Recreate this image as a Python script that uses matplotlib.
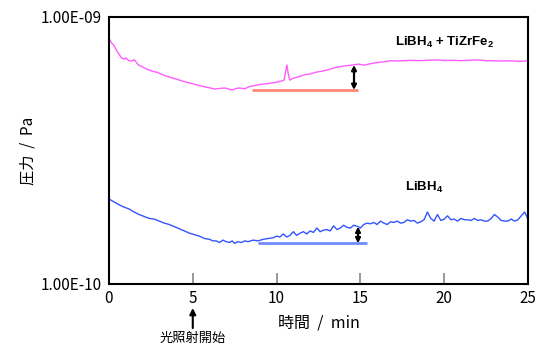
import matplotlib
matplotlib.use("Agg")
import matplotlib.pyplot as plt
import numpy as np

plt.rcParams['font.family'] = ['Noto Sans CJK JP', 'DejaVu Sans']
plt.rcParams['mathtext.fontset'] = 'custom'
plt.rcParams['mathtext.rm'] = 'Liberation Sans:bold'
plt.rcParams['mathtext.default'] = 'rm'

# 圧力データ (単位: 1e-10 Pa)
pink_t = [0, 0.15, 0.3, 0.45, 0.6, 0.75, 0.9, 1.0, 1.1, 1.2, 1.35, 1.5, 1.6, 1.75, 2.0, 2.3,
          2.6, 2.9, 3.2, 3.5, 3.8, 4.1, 4.4, 4.7, 5.0, 5.3, 5.7, 6.0, 6.3, 6.6, 6.9, 7.1,
          7.35, 7.6, 7.8, 8.1, 8.3, 8.5, 8.8, 9.1, 9.4, 9.7, 10.0, 10.3, 10.45, 10.55, 10.62,
          10.7, 10.8, 10.9, 11.1, 11.4, 11.7, 12.0, 12.4, 12.8, 13.1, 13.4, 13.7, 14.0, 14.3,
          14.6, 14.9, 15.2, 15.5, 15.8, 16.1, 16.5, 16.8, 17.2, 17.6, 18.0, 18.5, 19.0, 19.5,
          20.0, 20.5, 21.0, 21.5, 22.0, 22.5, 23.0, 23.5, 24.0, 24.5, 25.0]
pink_p = [8.32, 8.00, 7.82, 7.50, 7.25, 7.02, 6.95, 7.03, 6.93, 6.86, 6.84, 6.92, 6.80, 6.62, 6.50, 6.36,
          6.26, 6.20, 6.08, 5.98, 5.91, 5.83, 5.75, 5.68, 5.62, 5.55, 5.48, 5.43, 5.37, 5.40, 5.42, 5.38,
          5.33, 5.40, 5.42, 5.38, 5.46, 5.51, 5.55, 5.60, 5.62, 5.66, 5.70, 5.76, 5.80, 6.30, 6.61,
          6.10, 5.80, 5.86, 5.92, 6.00, 6.08, 6.12, 6.22, 6.28, 6.35, 6.44, 6.50, 6.55, 6.58,
          6.62, 6.66, 6.60, 6.66, 6.72, 6.76, 6.80, 6.86, 6.84, 6.86, 6.88, 6.86, 6.88, 6.90,
          6.87, 6.88, 6.86, 6.88, 6.90, 6.86, 6.85, 6.84, 6.85, 6.82, 6.85]

blue_t = [0, 0.3, 0.6, 0.9, 1.2, 1.5, 1.8, 2.1, 2.4, 2.7, 3.0, 3.3, 3.6, 3.9, 4.2, 4.5, 4.8, 5.1,
          5.4, 5.7, 6.0, 6.2, 6.4, 6.6, 6.8, 7.0, 7.2, 7.35, 7.5, 7.7, 7.9, 8.1, 8.3, 8.6, 8.9,
          9.2, 9.5, 9.8, 10.0, 10.2, 10.4, 10.6, 10.8, 11.0, 11.2, 11.4, 11.6, 11.8, 12.0, 12.2,
          12.4, 12.6, 12.8, 13.0, 13.2, 13.4, 13.6, 13.8, 14.0, 14.2, 14.4, 14.6, 14.86, 15.0,
          15.2, 15.4, 15.6, 15.8, 16.0, 16.2, 16.4, 16.6, 16.8, 17.0, 17.2, 17.4, 17.6, 17.8,
          18.0, 18.2, 18.4, 18.6, 18.8, 19.0, 19.2, 19.4, 19.6, 19.8, 20.0, 20.2, 20.4, 20.6,
          20.8, 21.0, 21.2, 21.4, 21.6, 21.8, 22.0, 22.2, 22.4, 22.6, 22.8, 23.0, 23.2, 23.4,
          23.6, 23.8, 24.0, 24.2, 24.4, 24.6, 24.8, 25.0]
blue_p = [2.08, 2.03, 1.98, 1.94, 1.91, 1.86, 1.82, 1.79, 1.76, 1.75, 1.72, 1.69, 1.67, 1.64, 1.61, 1.58, 1.55, 1.53,
          1.51, 1.48, 1.47, 1.45, 1.45, 1.43, 1.46, 1.44, 1.43, 1.45, 1.42, 1.44, 1.43, 1.45, 1.44, 1.46, 1.45,
          1.47, 1.48, 1.49, 1.51, 1.50, 1.54, 1.50, 1.52, 1.57, 1.52, 1.55, 1.57, 1.54, 1.58, 1.56,
          1.62, 1.57, 1.59, 1.60, 1.58, 1.65, 1.60, 1.62, 1.66, 1.63, 1.62, 1.66, 1.64, 1.62,
          1.67, 1.69, 1.68, 1.70, 1.67, 1.72, 1.69, 1.67, 1.71, 1.70, 1.72, 1.69, 1.70, 1.74,
          1.72, 1.73, 1.69, 1.71, 1.74, 1.86, 1.76, 1.72, 1.82, 1.73, 1.75, 1.80, 1.74, 1.75,
          1.72, 1.76, 1.74, 1.74, 1.73, 1.76, 1.73, 1.74, 1.72, 1.72, 1.76, 1.82, 1.78, 1.73,
          1.72, 1.72, 1.75, 1.72, 1.74, 1.80, 1.86, 1.75]

# 基準線 (照射前の最小値) と差分矢印
pink_base = [8.53, 14.86, 5.32]   # t開始, t終了, 圧力
blue_base = [8.89, 15.38, 1.42]
pink_arrow = [14.62, 5.33, 6.61]  # t, 下, 上
blue_arrow = [14.86, 1.42, 1.64]

scale = 1e-10

fig = plt.figure(figsize=(5.49, 3.47), dpi=100)
ax = fig.add_axes([0.1985, 0.1816, 0.7632, 0.7695])

ax.plot(pink_t, np.array(pink_p) * scale, color='#ff5cff', lw=1.0)
ax.plot(blue_t, np.array(blue_p) * scale, color='#3355ff', lw=1.0)

ax.plot(pink_base[:2], [pink_base[2] * scale] * 2, color='#ff8878', lw=2.0, solid_capstyle='butt')
ax.plot(blue_base[:2], [blue_base[2] * scale] * 2, color='#6f8cff', lw=2.0, solid_capstyle='butt')

for t, lo, hi in [pink_arrow, blue_arrow]:
    ax.annotate('', xy=(t, hi * scale), xytext=(t, lo * scale),
                arrowprops=dict(arrowstyle='<|-|>', color='black', lw=1.6,
                                mutation_scale=7, shrinkA=0, shrinkB=0))

ax.set_yscale('log')
ax.set_ylim(1e-10, 1e-9)
ax.set_xlim(0, 25)
ax.set_yticks([1e-10, 1e-9])
ax.set_yticklabels(['1.00E-10', '1.00E-09'])
ax.yaxis.set_minor_locator(matplotlib.ticker.NullLocator())
ax.tick_params(axis='y', length=0, labelsize=11, pad=5)
ax.set_xticks([0, 5, 10, 15, 20, 25])
ax.tick_params(axis='x', direction='in', length=8, width=1.2, color='#888888',
               labelsize=11, pad=4)

for s in ax.spines.values():
    s.set_linewidth(1.5)

ax.set_xlabel('時間  /  min', fontsize=11.5, labelpad=6)
ax.set_ylabel('圧力  /  Pa', fontsize=11, labelpad=3)

ax.text(0.80, 0.905, r'LiBH$_4$ + TiZrFe$_2$', transform=ax.transAxes, ha='center', va='center',
        fontsize=9.5, fontweight='bold', family='Liberation Sans')
ax.text(0.753, 0.36, r'LiBH$_4$', transform=ax.transAxes, ha='center', va='center',
        fontsize=9.5, fontweight='bold', family='Liberation Sans')

# 光照射開始の矢印
ax.annotate('', xy=(5, -0.09), xytext=(5, -0.165), xycoords=('data', 'axes fraction'),
            textcoords=('data', 'axes fraction'), annotation_clip=False,
            arrowprops=dict(arrowstyle='-|>', color='black', lw=1.5, mutation_scale=9,
                            shrinkA=0, shrinkB=0))
ax.text(5, -0.205, '光照射開始', transform=ax.get_xaxis_transform(), ha='center', va='center',
        fontsize=9.5)

fig.savefig('out.png', dpi=100)
